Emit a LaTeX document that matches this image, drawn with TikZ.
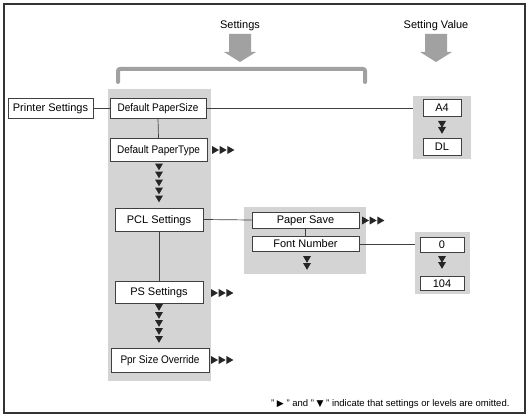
\documentclass[tikz,border=0pt]{standalone}
\usepackage{fontspec}
\setmainfont{Liberation Sans}
\newfontfamily\symfont{DejaVu Sans}
\usepackage{graphicx}
\usepackage{tikz}
\usetikzlibrary{positioning}

\definecolor{panelgray}{gray}{0.83}
\definecolor{markgray}{gray}{0.63}
\definecolor{linegray}{gray}{0.25}

\newcommand{\narrow}[1]{\scalebox{0.91}[1]{#1}}
\newcommand{\omitright}[2]{% x, y of the first triangle
  \foreach \k in {0,1,2}
    \fill[tri] ({#1+7.7*\k},{#2-4}) -- ++(0,8) -- ++(7,-4) -- cycle;}
\newcommand{\omitdown}[4]{% x, top y, count, step
  \foreach \k in {1,...,#3}
    \fill[tri] ({#1-4},{#2+#4*(\k-1)}) -- ++(8,0) -- ++(-4,6.8) -- cycle;}

\begin{document}
\begin{tikzpicture}
  [
    x=1pt, y=-1pt,
    box/.style={
      draw=linegray,
      fill=white,
      line width=0.7pt,
      inner sep=0pt,
      text height=8pt,
      text depth=0.5pt,
      font=\fontsize{11}{13}\selectfont
    },
    panel/.style={fill=panelgray, inner sep=0pt},
    link/.style={draw=linegray, line width=0.7pt},
    tri/.style={fill=black!85},
    bigarrow/.style={fill=markgray},
    head/.style={font=\fontsize{11}{13}\selectfont}
  ]
  \useasboundingbox (0,0) rectangle (530,417);
  \draw[line width=1.3pt, black!80] (4,4) rectangle (525,413);

  \node (setlbl) at (240,26) [head] {Settings};
  \node (vallbl) at (436,26) [head] {Setting Value};
  \foreach \ax in {240,436}
    \fill[bigarrow] ({\ax-11},34) -- ({\ax+11},34) -- ({\ax+11},52) -- ({\ax+16},52)
      -- (\ax,62) -- ({\ax-16},52) -- ({\ax-11},52) -- cycle;
  \draw[markgray, line width=4pt, line cap=round, rounded corners=2pt]
    (118,82) -- (118,69) -- (365,69) -- (365,82);

  \node (mainpan) at (159.5,235) [panel, minimum width=103, minimum height=292] {};
  \node (papan)   at (305,240.5) [panel, minimum width=122, minimum height=67] {};
  \node (a4pan)   at (442,127.5) [panel, minimum width=58, minimum height=63] {};
  \node (v0pan)   at (442.5,263) [panel, minimum width=55, minimum height=62] {};

  \node (printer) at (50.5,108) [box, minimum width=85, minimum height=20] {Printer Settings};
  \node (dps)     at (158,108)  [box, minimum width=96, minimum height=20] {\narrow{Default PaperSize}};
  \node (dpt)     at (158.5,150) [box, minimum width=97, minimum height=23] {\narrow{Default PaperType}};
  \node (pcl)     at (159,219.5) [box, minimum width=88, minimum height=23] {PCL Settings};
  \node (ps)      at (159,292)  [box, minimum width=88, minimum height=22] {PS Settings};
  \node (ppr)     at (160,360)  [box, minimum width=98, minimum height=24] {\narrow{Ppr Size Override}};

  \node (psave)   at (305.5,220) [box, minimum width=107, minimum height=16] {Paper Save};
  \node (fontnum) [box, below=8pt of psave, minimum width=107, minimum height=15] {Font Number};

  \node (a4) at (442,108)   [box, minimum width=38, minimum height=17] {A4};
  \node (dl) [box, below=21pt of a4, minimum width=38, minimum height=17] {DL};
  \node (v0) at (442,244.5) [box, minimum width=44, minimum height=15] {0};
  \node (v104) [box, below=24pt of v0, minimum width=44, minimum height=14] {104};

  \draw[link] (printer.east) -- (dps.west);
  \draw[link] (dps.east) -- (dps.east -| a4pan.west);
  \draw[link] (dps.south) -- (dpt.north);
  \draw[link] (pcl.east) -- (psave.west);
  \draw[link] (pcl.south) -- (ps.north);
  \draw[link] (psave.south) -- (fontnum.north);
  \draw[link] (fontnum.east) -- (fontnum.east -| v0pan.west);

  \omitright{212}{150}
  \omitright{362}{220.5}
  \omitright{211}{293}
  \omitright{211}{360}
  \omitdown{159}{163.5}{5}{8}
  \omitdown{159}{304}{5}{8}
  \omitdown{442}{121}{2}{6}
  \omitdown{307}{256}{2}{7}
  \omitdown{442}{256}{2}{6}

  \node (note) at (513,404) [anchor=east, font=\fontsize{9.5}{11}\selectfont]
    {" {\symfont\scalebox{0.95}{▶}} " and " {\symfont\scalebox{0.95}{▼}} " indicate that settings or levels are omitted.};
\end{tikzpicture}
\end{document}
